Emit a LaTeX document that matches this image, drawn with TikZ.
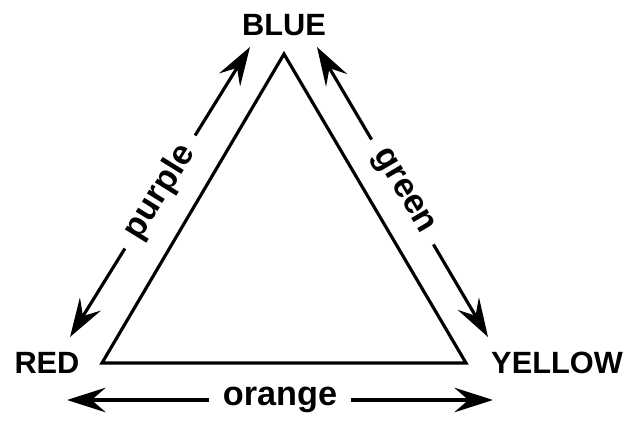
\documentclass[tikz,border=0pt]{standalone}
\usepackage{fontspec}
\setmainfont{Liberation Sans}
\usetikzlibrary{arrows.meta}

\begin{document}
\begin{tikzpicture}[
    x=0.02cm, y=-0.02cm,
    colour/.style={font=\fontsize{17.5}{20}\selectfont\bfseries, inner sep=0pt},
    mix/.style={font=\fontsize{19.5}{22}\selectfont\bfseries, fill=white, inner xsep=8pt, inner ysep=1pt, sloped},
    side/.style={line width=1.8pt, line join=miter},
    arrow/.style={{Stealth[length=22pt,width=14pt,inset=8pt]}-{Stealth[length=22pt,width=14pt,inset=8pt]}, line width=1.8pt}
]
    \useasboundingbox (0,0) rectangle (637,421);

    % colour names
    \node[colour] (blue) at (284,25) {BLUE};
    \node[colour] (red) at (47,363) {RED};
    \node[colour] (yellow) at (557,363) {YELLOW};

    % triangle corners
    \coordinate (top) at (284,54);
    \coordinate (left) at (102,363);
    \coordinate (right) at (466,363);
    \draw[side] (top) -- (left) -- (right) -- cycle;

    % arrow ends
    \coordinate (pu1) at (70,337);
    \coordinate (pu2) at (250,47);
    \coordinate (gr1) at (317,47);
    \coordinate (gr2) at (488,337);
    \coordinate (or1) at (67,400);
    \coordinate (or2) at (493,400);

    \draw[arrow] (pu1) -- node[mix, midway] {purple} (pu2);
    \draw[arrow] (gr1) -- node[mix, midway] {green} (gr2);
    \draw[arrow] (or1) -- node[mix, midway] {orange} (or2);
\end{tikzpicture}
\end{document}
